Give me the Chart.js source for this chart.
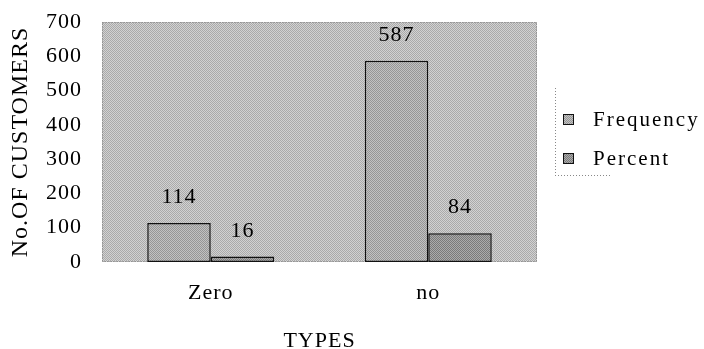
<!DOCTYPE html>
<html>
<head>
<meta charset="utf-8">
<script src="https://cdn.jsdelivr.net/npm/chart.js@4/dist/chart.umd.min.js"></script>
<style>
  html, body { margin: 0; padding: 0; background: #ffffff; }
  #wrap { width: 704px; height: 349px; }
</style>
</head>
<body>
<div id="wrap"><canvas id="c" width="704" height="349"></canvas></div>
<script>
// Customer counts by type
const categories = ['Zero', 'no'];
const seriesNames = ['Frequency', 'Percent'];
const frequency = [114, 587];
const percent = [16, 84];
const yMin = 0;
const yMax = 700;
const yStep = 100;
const yTitle = 'No.OF CUSTOMERS';
const xTitle = 'TYPES';

const SERIF = "'Liberation Serif', 'Times New Roman', serif";
const canvas = document.getElementById('c');
const ctx = canvas.getContext('2d');

// fine halftone grain used for the plot area and the bars
function grain(light, dark) {
  const t = document.createElement('canvas');
  t.width = 2; t.height = 2;
  const g = t.getContext('2d');
  g.fillStyle = light; g.fillRect(0, 0, 2, 2);
  g.fillStyle = dark; g.fillRect(0, 0, 1, 1); g.fillRect(1, 1, 1, 1);
  return ctx.createPattern(t, 'repeat');
}
const plotFill = grain('#d2d2d2', '#aaaaaa');
const freqFill = grain('#c2c2c2', '#969696');
const pctFill = grain('#ababab', '#7a7a7a');
const fills = [freqFill, pctFill];

const spacing = {
  id: 'spacing',
  beforeUpdate(chart) { chart.ctx.letterSpacing = '1px'; },
  beforeDraw(chart) { chart.ctx.letterSpacing = '1px'; }
};

const plotBox = {
  id: 'plotBox',
  beforeDatasetsDraw(chart) {
    const { ctx, chartArea: a } = chart;
    ctx.save();
    ctx.fillStyle = plotFill;
    ctx.fillRect(a.left, a.top, a.right - a.left, a.bottom - a.top);
    ctx.strokeStyle = '#777';
    ctx.lineWidth = 1;
    ctx.setLineDash([1, 2]);
    ctx.strokeRect(a.left + 0.5, a.top + 0.5, a.right - a.left - 1, a.bottom - a.top - 1);
    ctx.restore();
  }
};

const valueLabels = {
  id: 'valueLabels',
  afterDatasetsDraw(chart) {
    const { ctx } = chart;
    ctx.save();
    ctx.font = '22px ' + SERIF;
    ctx.letterSpacing = '1px';
    ctx.fillStyle = '#000';
    ctx.textAlign = 'center';
    ctx.textBaseline = 'alphabetic';
    chart.data.datasets.forEach((ds, i) => {
      chart.getDatasetMeta(i).data.forEach((el, j) => {
        ctx.fillText(String(ds.data[j]), el.x, el.y - 20);
      });
    });
    ctx.restore();
  }
};

const sideLegend = {
  id: 'sideLegend',
  afterDraw(chart) {
    const { ctx } = chart;
    const x0 = 555, top = 88, bottom = 175;
    ctx.save();
    ctx.strokeStyle = '#888';
    ctx.lineWidth = 1;
    ctx.setLineDash([1, 2]);
    ctx.beginPath();
    ctx.moveTo(x0 + 0.5, top); ctx.lineTo(x0 + 0.5, bottom);
    ctx.moveTo(x0, bottom + 0.5); ctx.lineTo(612, bottom + 0.5);
    ctx.stroke();
    ctx.setLineDash([]);
    ctx.font = '21px ' + SERIF;
    ctx.letterSpacing = '2px';
    ctx.textAlign = 'left';
    ctx.textBaseline = 'middle';
    chart.data.datasets.forEach((ds, i) => {
      const cy = 120 + i * 39;
      ctx.fillStyle = fills[i];
      ctx.fillRect(563, cy - 6, 11, 11);
      ctx.strokeStyle = '#111';
      ctx.lineWidth = 1;
      ctx.strokeRect(563.5, cy - 5.5, 10, 10);
      ctx.fillStyle = '#000';
      ctx.fillText(ds.label, 593, cy);
    });
    ctx.restore();
  }
};

new Chart(canvas, {
  type: 'bar',
  data: {
    labels: categories,
    datasets: [
      { label: seriesNames[0], data: frequency, backgroundColor: freqFill },
      { label: seriesNames[1], data: percent, backgroundColor: pctFill }
    ]
  },
  options: {
    responsive: false,
    animation: false,
    devicePixelRatio: 1,
    datasets: {
      bar: {
        categoryPercentage: 0.584,
        barPercentage: 1.0,
        borderColor: '#111',
        borderWidth: 1.5,
        borderSkipped: false
      }
    },
    layout: { padding: { left: 0, right: 167, top: 22, bottom: 0 } },
    plugins: {
      legend: { display: false },
      tooltip: { enabled: false }
    },
    scales: {
      x: {
        grid: { display: false, drawTicks: false },
        border: { display: false },
        ticks: { color: '#000', font: { family: SERIF, size: 22 }, padding: 18 },
        title: {
          display: true, text: xTitle, color: '#000',
          font: { family: SERIF, size: 22 },
          padding: { top: 3.4, bottom: -5.2 }
        }
      },
      y: {
        min: yMin, max: yMax,
        grid: { display: false, drawTicks: true, tickLength: 12 },
        border: { display: false },
        ticks: { stepSize: yStep, autoSkip: false, color: '#000', font: { family: SERIF, size: 22 }, padding: 8 },
        title: {
          display: true, text: yTitle, color: '#000',
          font: { family: SERIF, size: 24 },
          padding: { top: 6.6, bottom: 2.6 }
        }
      }
    }
  },
  plugins: [spacing, plotBox, valueLabels, sideLegend]
});
</script>
</body>
</html>
